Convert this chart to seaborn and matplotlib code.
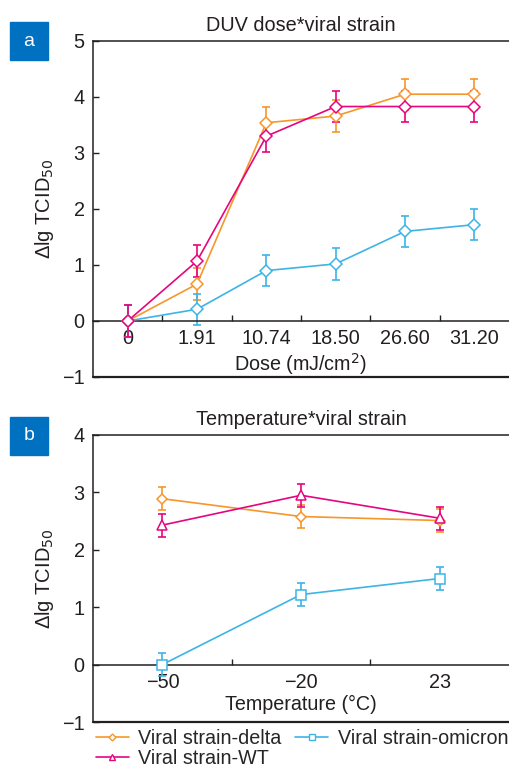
import matplotlib
matplotlib.use('Agg')
import matplotlib.pyplot as plt
from matplotlib.lines import Line2D
from matplotlib.patches import Rectangle
import pandas as pd
import seaborn as sns

sns.set_style('ticks')
plt.rcParams['font.family'] = ['Liberation Sans', 'DejaVu Sans']
plt.rcParams['axes.unicode_minus'] = True

# ========= DATA =========
doses = ['0', '1.91', '10.74', '18.50', '26.60', '31.20']
delta_a = [0.0, 0.66, 3.54, 3.66, 4.05, 4.05]
omicron_a = [0.0, 0.21, 0.90, 1.02, 1.60, 1.72]
wt_a = [0.0, 1.07, 3.30, 3.83, 3.83, 3.83]
delta_a_err = [0.28, 0.28, 0.28, 0.28, 0.28, 0.28]
omicron_a_err = [0.28, 0.28, 0.28, 0.28, 0.28, 0.28]
wt_a_err = [0.28, 0.28, 0.28, 0.28, 0.28, 0.28]

temps = ['\u221250', '\u221220', '23']
delta_b = [2.89, 2.58, 2.51]
omicron_b = [0.0, 1.22, 1.50]
wt_b = [2.43, 2.95, 2.55]
delta_b_err = [0.2, 0.2, 0.2]
omicron_b_err = [0.2, 0.2, 0.2]
wt_b_err = [0.2, 0.2, 0.2]

strains = ['Viral strain-delta', 'Viral strain-omicron', 'Viral strain-WT']
colors = {'Viral strain-delta': '#F7962A',
          'Viral strain-omicron': '#3DB4E6',
          'Viral strain-WT': '#E6057F'}

W, H = 509, 769
fig = plt.figure(figsize=(W / 100, H / 100), dpi=100)
ax_a = fig.add_axes([93 / W, 1 - 377 / H, 1 - 93 / W, (377 - 41) / H])
ax_b = fig.add_axes([93 / W, 1 - 722 / H, 1 - 93 / W, (722 - 435) / H])


def panel(ax, cats, vals, errs, markers, msizes, ylim, title, xlabel):
    rows = []
    for s in strains:
        for i, c in enumerate(cats):
            rows.append({'strain': s, 'pos': i, 'val': vals[s][i], 'err': errs[s][i]})
    df = pd.DataFrame(rows)
    for s in strains:
        d = df[df['strain'] == s]
        ax.errorbar(d['pos'], d['val'], yerr=d['err'], fmt='none',
                    ecolor=colors[s], elinewidth=1.2, capsize=3, capthick=1.2, zorder=2)
        sns.lineplot(data=d, x='pos', y='val', ax=ax, color=colors[s],
                     marker=markers[s], markersize=msizes[s], markerfacecolor='white',
                     markeredgecolor=colors[s], markeredgewidth=1.1,
                     linewidth=1.2, legend=False, zorder=3, errorbar=None)
    n = len(cats)
    ax.set_xlim(-0.5, n - 0.5)
    ax.set_ylim(*ylim)
    ax.set_yticks(range(ylim[0], ylim[1] + 1))
    ax.set_xticks(range(n))
    ax.set_xticklabels(cats)
    ax.set_xticks([i + 0.5 for i in range(n - 1)], minor=True)
    ax.tick_params(axis='x', which='major', length=0, pad=6, labelsize=14.3, colors='#231F20')
    ax.tick_params(axis='x', which='minor', length=4, direction='in', width=1, color='#231F20')
    ax.tick_params(axis='y', length=4, direction='in', width=1, labelsize=14.3, pad=6, colors='#231F20')
    ax.spines['bottom'].set_position(('data', 0))
    ax.spines['right'].set_visible(False)
    for sp in ['left', 'top', 'bottom']:
        ax.spines[sp].set_color('#231F20')
        ax.spines[sp].set_linewidth(1.1)
    ax.axhline(ylim[0], color='#231F20', lw=1.6, clip_on=False)
    ax.set_title(title, fontsize=14.3, pad=7, color='#231F20')
    ax.set_xlabel(xlabel, fontsize=14.2, labelpad=2, color='#231F20')
    ax.set_ylabel('\u0394lg TCID$_{50}$', fontsize=14.5, labelpad=4.5, color='#231F20')


panel(ax_a, doses,
      {'Viral strain-delta': delta_a, 'Viral strain-omicron': omicron_a, 'Viral strain-WT': wt_a},
      {'Viral strain-delta': delta_a_err, 'Viral strain-omicron': omicron_a_err, 'Viral strain-WT': wt_a_err},
      {s: 'D' for s in strains}, {s: 6.5 for s in strains},
      (-1, 5), 'DUV dose*viral strain', 'Dose (mJ/cm$^2$)')

mk_b = {'Viral strain-delta': 'D', 'Viral strain-omicron': 's', 'Viral strain-WT': '^'}
ms_b = {'Viral strain-delta': 5, 'Viral strain-omicron': 7, 'Viral strain-WT': 7}
panel(ax_b, temps,
      {'Viral strain-delta': delta_b, 'Viral strain-omicron': omicron_b, 'Viral strain-WT': wt_b},
      {'Viral strain-delta': delta_b_err, 'Viral strain-omicron': omicron_b_err, 'Viral strain-WT': wt_b_err},
      mk_b, ms_b, (-1, 4), 'Temperature*viral strain', 'Temperature (\u00b0C)')

# panel labels
for lab, y0 in [('a', 22), ('b', 417)]:
    fig.add_artist(Rectangle((10 / W, 1 - (y0 + 38) / H), 38 / W, 38 / H,
                             transform=fig.transFigure, color='#0070C0'))
    fig.text(29 / W, 1 - (y0 + 19) / H, lab, color='white', fontsize=14,
             ha='center', va='center')

# legend
order = ['Viral strain-delta', 'Viral strain-WT', 'Viral strain-omicron']
handles = [Line2D([], [], color=colors[s], marker=mk_b[s], markersize=ms_b[s] * 0.7,
                  markerfacecolor='white', lw=1.2) for s in order]
fig.legend(handles, order, ncol=2, loc='upper left', bbox_to_anchor=(96 / W, 1 - 729 / H),
           frameon=False, fontsize=14.2, handlelength=1.65, handletextpad=0.5,
           columnspacing=0.7, labelspacing=0.05, borderaxespad=0, borderpad=0)

fig.savefig('out.png', dpi=100)
